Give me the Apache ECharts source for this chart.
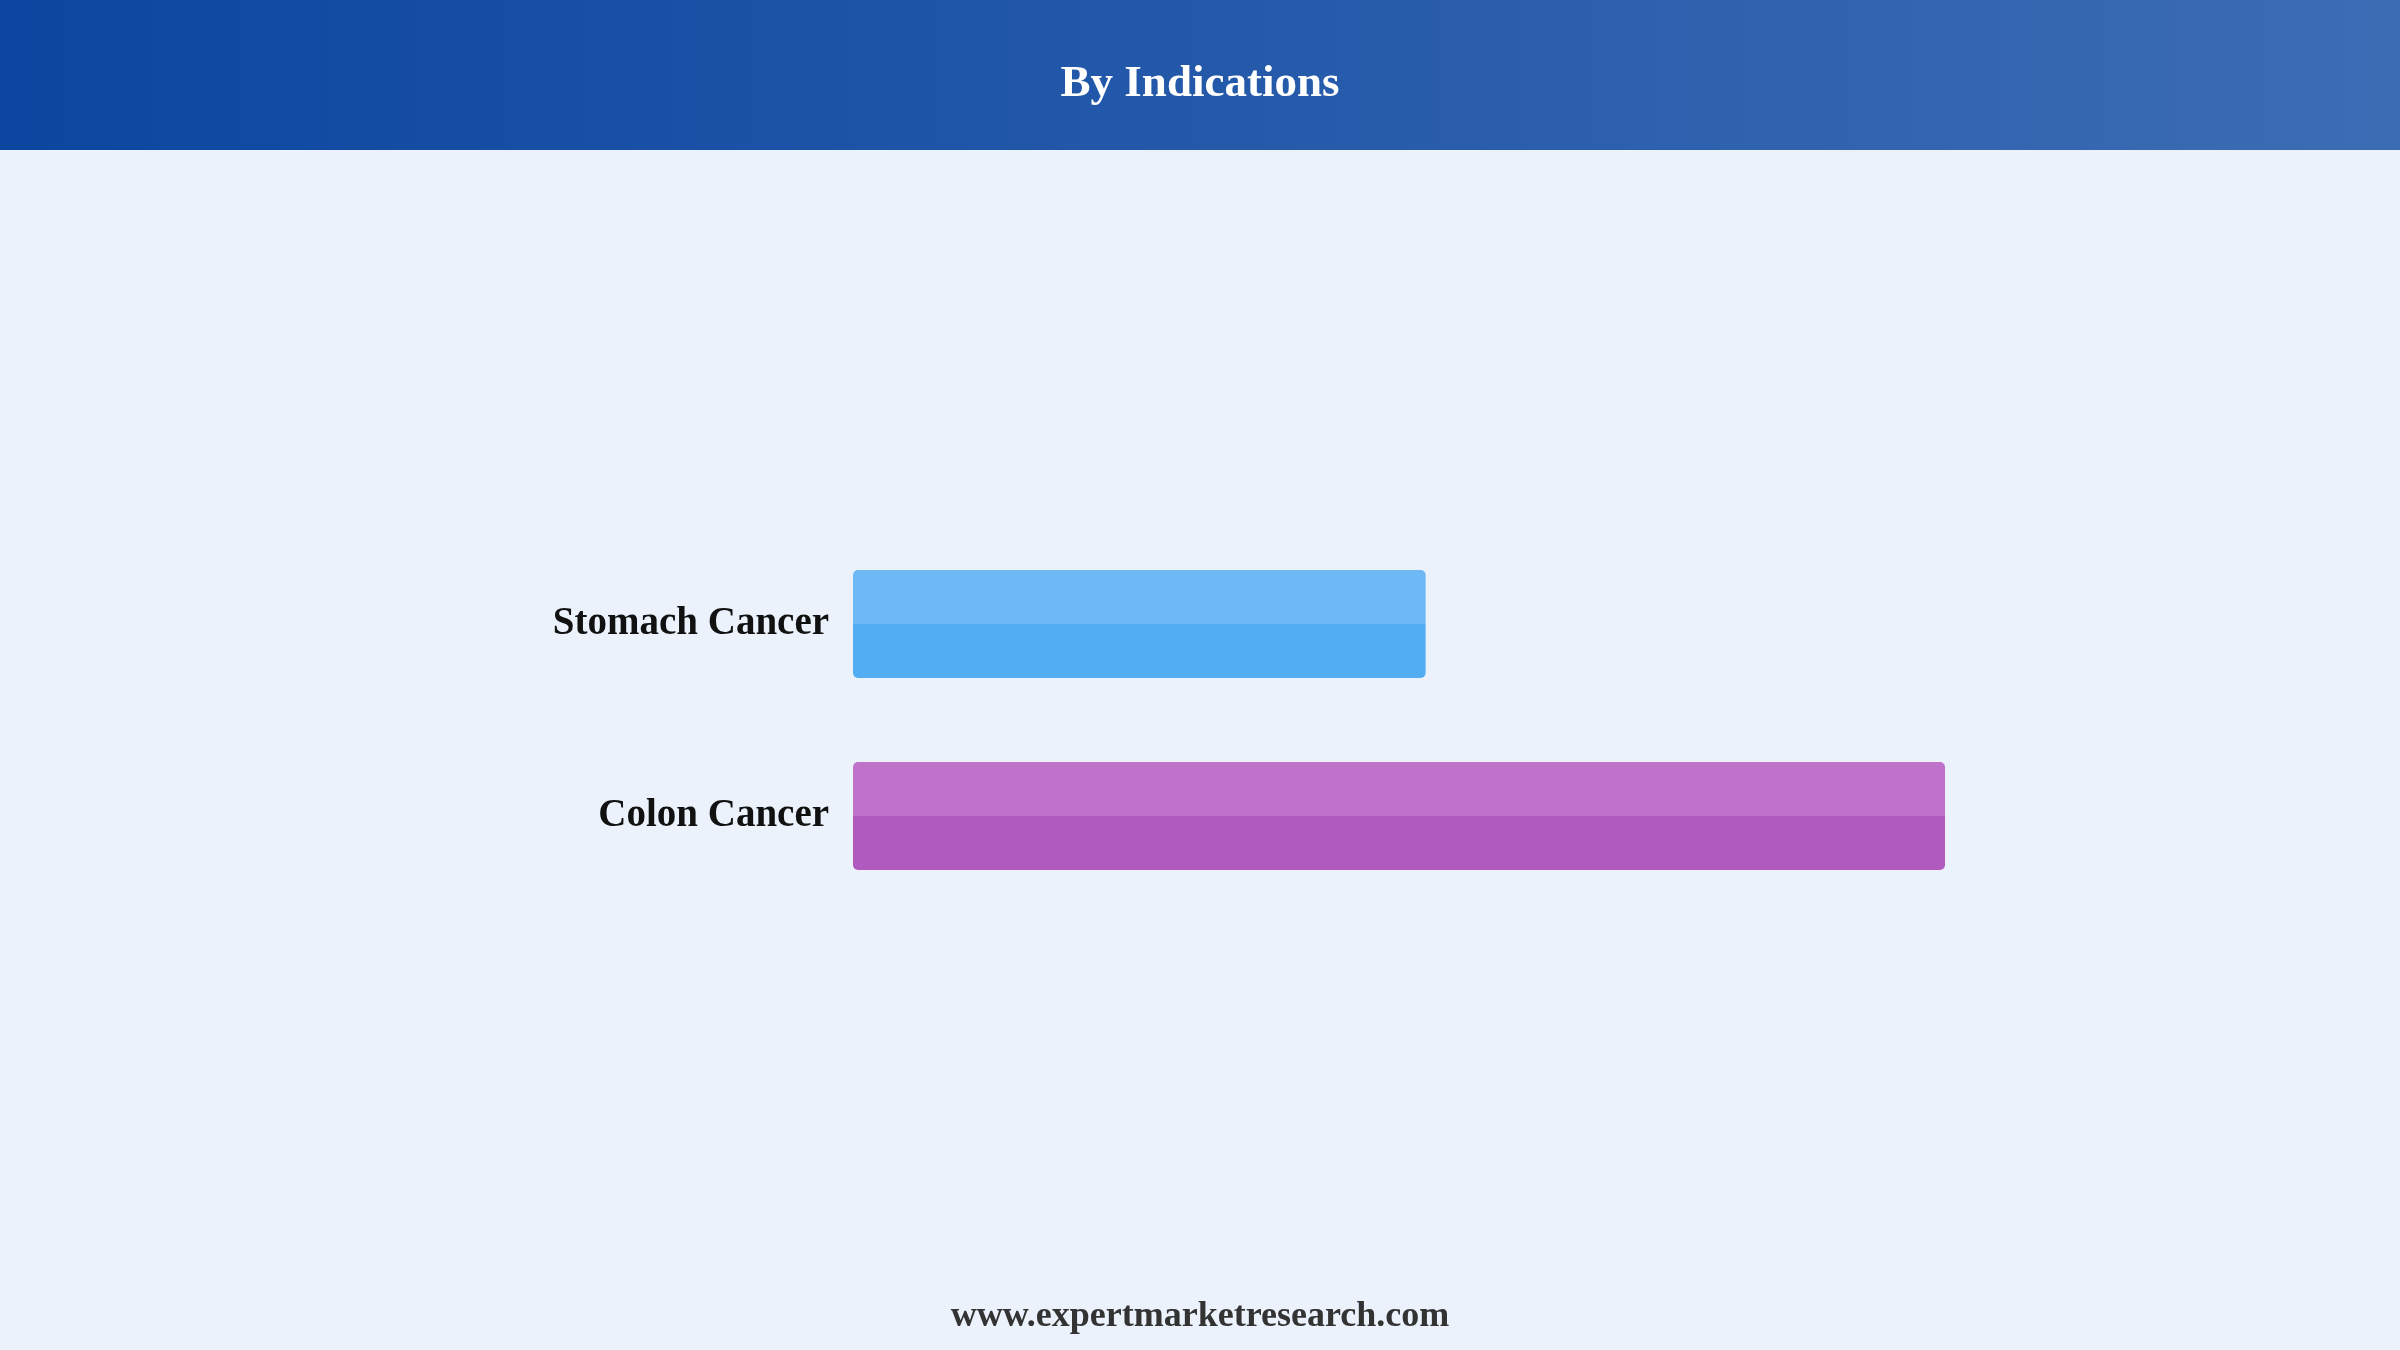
<!DOCTYPE html>
<html>
<head>
<meta charset="utf-8">
<title>By Indications</title>
<script src="https://cdn.jsdelivr.net/npm/echarts@6/dist/echarts.min.js"></script>
<style>
  html, body { margin: 0; padding: 0; background: #EBF2FC; }
  #container { width: 2400px; height: 1350px; }
</style>
</head>
<body>
<div id="container"></div>
<script>
// data
var categories = ['Stomach Cancer', 'Colon Cancer'];
var values = [34.4, 65.6];
// top half / bottom half of each bar
var lightColors = ['#6DB8F5', '#BF72CA'];
var darkColors = ['#52ADF3', '#B05ABF'];

var serif = '"Liberation Serif", "Times New Roman", serif';

var dom = document.getElementById('container');
var myChart = echarts.init(dom);

var barData = [];
for (var i = 0; i < values.length; i++) {
    barData.push({
        value: values[i],
        itemStyle: {
            color: {
                type: 'linear', x: 0, y: 0, x2: 0, y2: 1,
                colorStops: [
                    { offset: 0, color: lightColors[i] },
                    { offset: 0.5, color: lightColors[i] },
                    { offset: 0.5, color: darkColors[i] },
                    { offset: 1, color: darkColors[i] }
                ]
            }
        }
    });
}

myChart.setOption({
    backgroundColor: '#EBF2FC',
    animation: false,
    graphic: [{
        type: 'rect',
        left: 0, top: 0, z: -1,
        shape: { width: 2400, height: 150 },
        style: {
            fill: {
                type: 'linear', x: 0, y: 0, x2: 1, y2: 0,
                colorStops: [
                    { offset: 0, color: '#0C46A0' },
                    { offset: 1, color: '#3C6CB4' }
                ]
            }
        }
    }, {
        type: 'text',
        left: 'center',
        top: 1299,
        style: {
            text: 'www.expertmarketresearch.com',
            fill: '#333333',
            font: 'bold 36px ' + serif
        }
    }],
    title: {
        text: 'By Indications',
        left: 'center',
        top: 57,
        textStyle: {
            color: '#ffffff',
            fontFamily: serif,
            fontWeight: 'bold',
            fontSize: 45
        }
    },
    grid: {
        left: 853,
        right: 455,
        top: 528,
        height: 384
    },
    xAxis: {
        type: 'value',
        min: 0,
        max: 'dataMax',
        show: false
    },
    yAxis: {
        type: 'category',
        data: categories,
        inverse: true,
        axisLine: { show: false },
        axisTick: { show: false },
        splitLine: { show: false },
        axisLabel: {
            margin: 24,
            padding: [6, 0, 0, 0],
            color: '#111111',
            fontFamily: serif,
            fontWeight: 'bold',
            fontSize: 39
        }
    },
    series: [{
        type: 'bar',
        data: barData,
        barWidth: 108,
        itemStyle: { borderRadius: 5 }
    }]
});
</script>
</body>
</html>
